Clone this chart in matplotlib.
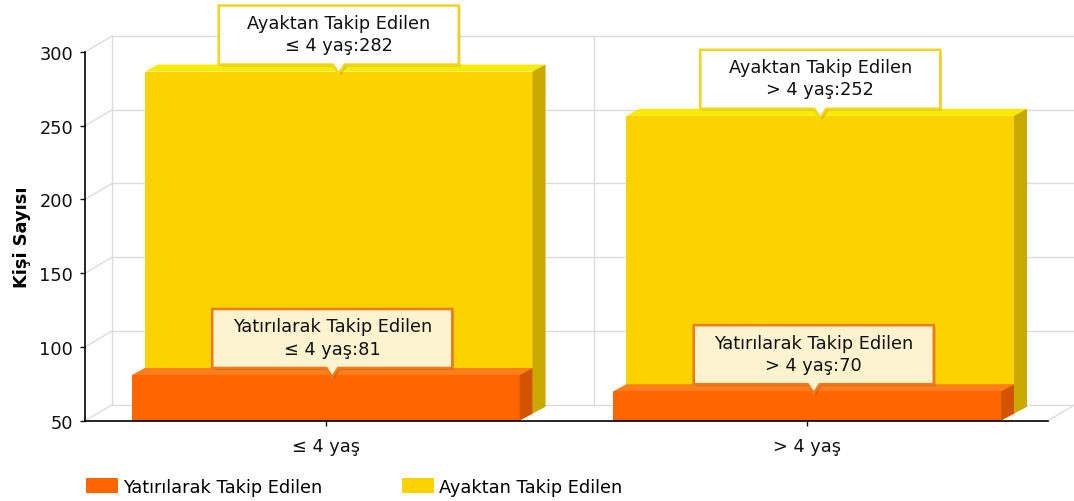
import matplotlib
matplotlib.use("Agg")
import matplotlib.pyplot as plt
import matplotlib.transforms as mtransforms
from matplotlib.patches import Polygon, Patch
import numpy as np

categories = ["≤ 4 yaş", "> 4 yaş"]
series_names = ["Yatırılarak Takip Edilen", "Ayaktan Takip Edilen"]
yatirilarak = [81, 70]
ayaktan = [282, 252]
y_ticks = [50, 100, 150, 200, 250, 300]

# front / top / side shades for each series
face_colors = ["#ff6600", "#fad200"]
top_colors = ["#ff7d1a", "#f8ea00"]
side_colors = ["#d25400", "#c9a900"]
tip_fill = ["#fdf3cf", "#ffffff"]
tip_edge = ["#f07a1a", "#f2d41a"]
grid_color = "#dcdcdc"

DPI = 100
FS = 12.8
plt.rcParams["font.family"] = "DejaVu Sans"

fig = plt.figure(figsize=(10.74, 5.02), dpi=DPI)
ax = fig.add_axes([85 / 1074, 80.3 / 502, 963 / 1074, 368.7 / 502])
ax.set_xlim(-0.5, 1.5)
ax.set_ylim(50, 300)

# pixel -> data conversion for the fake depth
px_x = 963 / 2.0
px_y = 368.7 / 250.0
bar_dx, bar_dy = 13 / px_x, 7 / px_y
wall_dx, wall_dy = 27 / px_x, 16 / px_y
width = 0.805
base = 50

# back wall and floor grid
for t in y_ticks:
    ax.plot([-0.5, -0.5 + wall_dx], [t, t + wall_dy], color=grid_color, lw=1, zorder=0, clip_on=False)
    ax.plot([-0.5 + wall_dx, 1.5 + wall_dx], [t + wall_dy, t + wall_dy], color=grid_color, lw=1, zorder=0, clip_on=False)
for xv in [-0.5, 0.5, 1.5]:
    ax.plot([xv + wall_dx, xv + wall_dx], [base + wall_dy, 300 + wall_dy], color=grid_color, lw=1, zorder=0, clip_on=False)
ax.plot([1.5, 1.5 + wall_dx], [base, base + wall_dy], color=grid_color, lw=1, zorder=0, clip_on=False)

x = np.arange(len(categories))


def draw_bars(values, k):
    ox, oy = k * bar_dx, k * bar_dy
    ax.bar(x + ox, np.array(values) - base, bottom=base + oy, width=width,
           color=face_colors[k], linewidth=0, zorder=5 - k)
    for xi, v in zip(x, values):
        x0, x1 = xi - width / 2 + ox, xi + width / 2 + ox
        b, t = base + oy, v + oy
        top = Polygon([(x0, t), (x1, t), (x1 + bar_dx, t + bar_dy), (x0 + bar_dx, t + bar_dy)],
                      closed=True, fc=top_colors[k], ec="none", zorder=5 - k, clip_on=False)
        side = Polygon([(x1, b), (x1 + bar_dx, b + bar_dy), (x1 + bar_dx, t + bar_dy), (x1, t)],
                       closed=True, fc=side_colors[k], ec="none", zorder=5 - k, clip_on=False)
        ax.add_patch(top)
        ax.add_patch(side)


# series 0 sits in front, series 1 one step back
draw_bars(ayaktan, 1)
draw_bars(yatirilarak, 0)


def tooltip(xd, yd, text, k):
    # shape in pixels, anchored at the bar's top-front centre
    tr = mtransforms.ScaledTranslation(xd, yd, ax.transData)
    hw, bot, top, pw = 120, 7, 66, 6
    pts = [(-hw, bot), (-pw, bot), (0, -2), (pw, bot), (hw, bot), (hw, top), (-hw, top)]
    shadow = Polygon([(px + 2, py - 2) for px, py in pts], closed=True, fc="#00000022",
                     ec="none", transform=tr, zorder=9, clip_on=False)
    box = Polygon(pts, closed=True, fc=tip_fill[k], ec=tip_edge[k], lw=1.8,
                  transform=tr, zorder=10, clip_on=False)
    ax.add_patch(shadow)
    ax.add_patch(box)
    ax.text(0, (bot + top) / 2 + 1, text, transform=tr, ha="center", va="center",
            fontsize=FS, linespacing=1.3, color="#111111", zorder=11)


for xi, cat, v in zip(x, categories, ayaktan):
    tooltip(xi + bar_dx, v + bar_dy, f"{series_names[1]}\n{cat}:{v}", 1)
for xi, cat, v in zip(x, categories, yatirilarak):
    tooltip(xi + bar_dx / 2, v, f"{series_names[0]}\n{cat}:{v}", 0)

# axes styling
for s in ["top", "right"]:
    ax.spines[s].set_visible(False)
for s in ["left", "bottom"]:
    ax.spines[s].set_color("black")
    ax.spines[s].set_linewidth(1.2)
    ax.spines[s].set_zorder(8)
ax.set_yticks(y_ticks)
ax.set_xticks(x)
ax.set_xticklabels(categories)
ax.tick_params(axis="y", length=3.6, width=1, pad=5, labelsize=FS, colors="#111111")
ax.tick_params(axis="x", length=3.6, width=1, pad=8, labelsize=FS, colors="#111111")
ax.set_ylabel("Kişi Sayısı", fontsize=FS, fontweight="bold")
ax.yaxis.set_label_coords(-0.056, 0.5)
ax.patch.set_visible(False)

handles = [Patch(facecolor=face_colors[0], edgecolor="none"),
           Patch(facecolor=face_colors[1], edgecolor="none")]
fig.legend(handles, series_names, loc="upper left", bbox_to_anchor=(86 / 1074, 1 - 479 / 502),
           ncol=2, frameon=False, fontsize=FS, handlelength=1.8, handleheight=0.9,
           handletextpad=0.3, columnspacing=4.45, borderpad=0, borderaxespad=0)

fig.savefig("out.png", dpi=DPI)
